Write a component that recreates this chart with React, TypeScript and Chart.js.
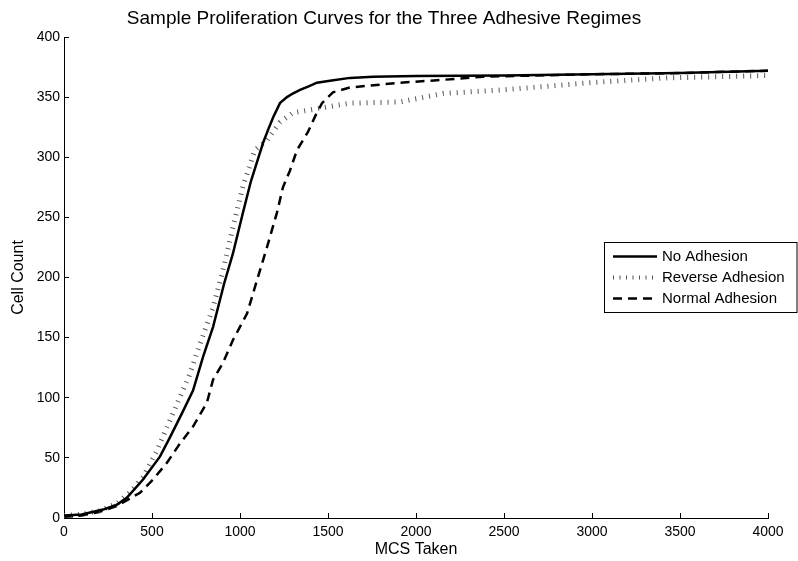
import { useEffect, useRef } from "react";
import { Chart, registerables } from "chart.js";

Chart.register(...registerables);

const chartTitle = "Sample Proliferation Curves for the Three Adhesive Regimes";
const xAxisLabel = "MCS Taken";
const yAxisLabel = "Cell Count";
const seriesLabels = ["No Adhesion", "Reverse Adhesion", "Normal Adhesion"];

const xTickStep = 500;
const xRange = [0, 4000];
const yTickStep = 50;
const yRange = [0, 400];

const noAdhesionX = [0, 100, 222, 300, 358, 449, 545, 602, 670, 733, 790, 847, 910, 960, 1017, 1062, 1131, 1160, 1188, 1227, 1267, 1300, 1341, 1390, 1437, 1530, 1625, 1756, 2000, 2500, 3000, 3500, 4000];
const noAdhesionY = [2, 3, 7, 11, 17, 32, 51, 67, 87, 106, 134, 159, 195, 220, 254, 280, 312, 323, 333, 345, 350, 353, 356, 359, 362, 364, 366, 367, 367.5, 368, 369, 370, 372];

const reverseAdhesionX = [0, 100, 200, 300, 380, 449, 528, 619, 716, 773, 847, 903, 960, 1017, 1085, 1153, 1227, 1301, 1341, 1625, 1909, 2153, 2494, 2989, 3426, 4000];
const reverseAdhesionY = [2, 3, 6, 12, 22, 34, 56, 87, 120, 145, 175, 206, 242, 276, 306, 314, 329, 337, 338, 345, 346, 353, 356, 362, 366, 368];

const normalAdhesionX = [0, 100, 200, 300, 432, 506, 585, 659, 733, 812, 847, 903, 960, 1040, 1097, 1153, 1210, 1244, 1284, 1324, 1386, 1430, 1466, 1528, 1625, 1909, 2119, 2380, 3000, 3500, 4000];
const normalAdhesionY = [1, 2, 5, 10, 21, 32, 46, 62, 76, 96, 115, 129, 148, 170, 198, 225, 254, 275, 289, 306, 321, 335, 345, 354, 358, 362, 364, 367, 369, 370, 372];

const FONT = "'Liberation Sans', Arial, Helvetica, sans-serif";

const toPoints = (xs: number[], ys: number[]) => xs.map((x, i) => ({ x, y: ys[i] }));

const boxLegend = {
  id: "boxLegend",
  afterDraw(chart: any) {
    const { ctx } = chart;
    const left = 604.5;
    const top = 242.5;
    const width = 192.5;
    const height = 70;
    ctx.save();
    ctx.fillStyle = "#fff";
    ctx.fillRect(left, top, width, height);
    ctx.strokeStyle = "#000";
    ctx.lineWidth = 1;
    ctx.setLineDash([]);
    ctx.strokeRect(left, top, width, height);
    const rows = [256.5, 277.5, 298.5];
    chart.data.datasets.forEach((ds: any, i: number) => {
      const y = rows[i];
      ctx.save();
      ctx.strokeStyle = ds.borderColor;
      ctx.lineWidth = i === 1 ? 4 : ds.borderWidth;
      ctx.setLineDash(i === 1 ? [1, 5.5] : ds.borderDash || []);
      ctx.lineCap = "butt";
      ctx.beginPath();
      ctx.moveTo(613, y);
      ctx.lineTo(657, y);
      ctx.stroke();
      ctx.restore();
      ctx.fillStyle = "#000";
      ctx.font = `15px ${FONT}`;
      ctx.textBaseline = "middle";
      ctx.textAlign = "left";
      ctx.fillText(ds.label, 662, y);
    });
    ctx.restore();
  },
};

export default function App() {
  const ref = useRef<HTMLCanvasElement | null>(null);
  useEffect(() => {
    document.body.style.margin = "0";
    if (!ref.current) return;
    const chart = new Chart(ref.current, {
      type: "line",
      data: {
        datasets: [
          {
            label: seriesLabels[0],
            data: toPoints(noAdhesionX, noAdhesionY),
            borderColor: "#000",
            borderWidth: 2.5,
            pointRadius: 0,
            tension: 0,
          },
          {
            label: seriesLabels[1],
            data: toPoints(reverseAdhesionX, reverseAdhesionY),
            borderColor: "#555",
            borderWidth: 5,
            borderDash: [1, 6],
            borderCapStyle: "butt",
            pointRadius: 0,
            tension: 0,
          },
          {
            label: seriesLabels[2],
            data: toPoints(normalAdhesionX, normalAdhesionY),
            borderColor: "#000",
            borderWidth: 2.5,
            borderDash: [9, 6],
            borderCapStyle: "butt",
            pointRadius: 0,
            tension: 0,
          },
        ],
      },
      options: {
        animation: false,
        responsive: false,
        layout: { padding: { left: 0, right: 30, top: 0, bottom: 0 } },
        plugins: {
          legend: { display: false },
          tooltip: { enabled: false },
          title: {
            display: true,
            text: chartTitle,
            color: "#000",
            font: { family: FONT, size: 19, weight: "normal" },
            padding: { top: 7, bottom: 7.2 },
          },
        },
        scales: {
          x: {
            type: "linear",
            min: xRange[0],
            max: xRange[1],
            ticks: {
              stepSize: xTickStep,
              color: "#000",
              font: { family: FONT, size: 14 },
              padding: 11,
              maxRotation: 0,
              callback: (v: any) => String(v),
            },
            grid: { display: true, drawOnChartArea: false, drawTicks: true, tickLength: -5, color: "#000" },
            border: { display: true, color: "#000", width: 1 },
            title: {
              display: true,
              text: xAxisLabel,
              color: "#000",
              font: { family: FONT, size: 16 },
              padding: { top: 0, bottom: 2 },
            },
            afterFit: (s: any) => {
              s.height = 43;
            },
          },
          y: {
            type: "linear",
            min: yRange[0],
            max: yRange[1],
            ticks: {
              stepSize: yTickStep,
              color: "#000",
              font: { family: FONT, size: 14 },
              padding: 9,
              callback: (v: any) => String(v),
            },
            grid: { display: true, drawOnChartArea: false, drawTicks: true, tickLength: -5, color: "#000" },
            border: { display: true, color: "#000", width: 1 },
            title: {
              display: true,
              text: yAxisLabel,
              color: "#000",
              font: { family: FONT, size: 16 },
              padding: { top: 9, bottom: 0 },
            },
            afterFit: (s: any) => {
              s.width = 64;
            },
          },
        },
      },
      plugins: [boxLegend],
    } as any);
    return () => chart.destroy();
  }, []);
  return (
    <div style={{ width: 798, height: 561 }}>
      <canvas ref={ref} width={798} height={561} />
    </div>
  );
}
